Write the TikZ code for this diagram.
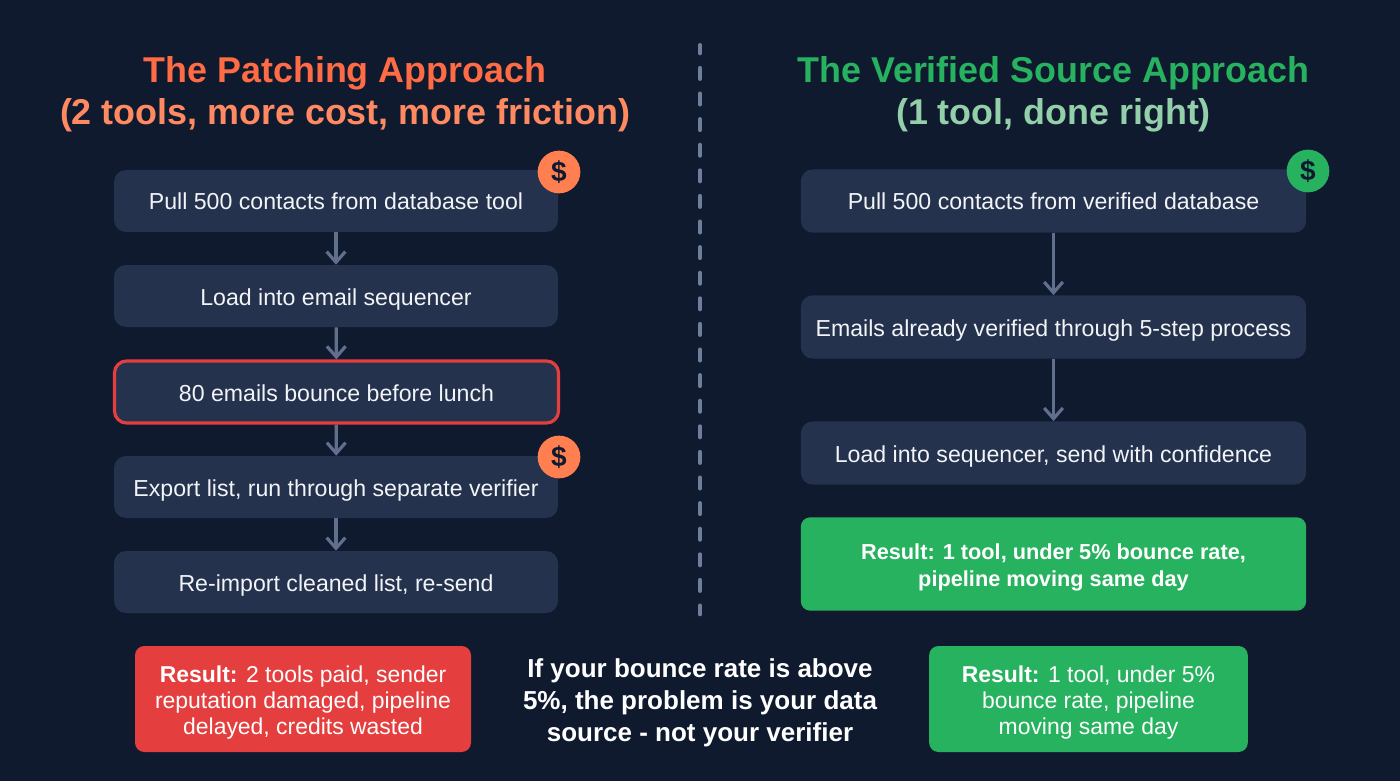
\documentclass[tikz,border=0pt]{standalone}
\usepackage{fontspec}
\setmainfont{Liberation Sans}
\usetikzlibrary{arrows.meta}
\definecolor{pagebg}{HTML}{101A2F}
\definecolor{boxbg}{HTML}{24324D}
\definecolor{arrowgray}{HTML}{5F6F8C}
\definecolor{dashgray}{HTML}{6E7F9C}
\definecolor{textwhite}{HTML}{F2F4F7}
\definecolor{patchorange}{HTML}{FF6B45}
\definecolor{patchlight}{HTML}{FF8A62}
\definecolor{badgeorange}{HTML}{FF7F50}
\definecolor{srcgreen}{HTML}{27B25F}
\definecolor{srclight}{HTML}{93CFA9}
\definecolor{alertred}{HTML}{E53E3E}
\tikzset{
  stepbox/.style={fill=boxbg,rounded corners=9pt,text=textwhite,inner sep=0pt,
    text height=14pt,text depth=.5pt,font=\fontsize{17.35pt}{21pt}\selectfont},
  leftbox/.style={stepbox,minimum width=333pt,minimum height=46.5pt},
  rightbox/.style={stepbox,minimum width=379pt,minimum height=47.5pt},
  flow/.style={draw=arrowgray,line width=2.4pt,-{Straight Barb[length=8pt,width=14pt,line width=2.4pt]}},
  badge/.style={circle,minimum size=32pt,inner sep=0pt,text=pagebg,
    font=\fontsize{21pt}{24pt}\selectfont\bfseries},
  resultbox/.style={rounded corners=7pt,text=white,inner sep=0pt,align=center,
    minimum height=79.5pt,font=\fontsize{17.2pt}{19.7pt}\selectfont},
  heading/.style={align=center,inner sep=0pt,font=\fontsize{26.9pt}{31.5pt}\selectfont\bfseries},
}
\begin{document}
\begin{tikzpicture}[x=.75pt,y=-.75pt]
\useasboundingbox (0,0) rectangle (1400,781);
\fill [pagebg] (0,0) rectangle (1400,781);
\node [heading] (leftTitle) at (345,94) {\textcolor{patchorange}{The Patching Approach}\\\textcolor{patchlight}{(2 tools, more cost, more friction)}};
\node [heading] (rightTitle) at (1053.5,94) {\textcolor{srcgreen}{The Verified Source Approach}\\\textcolor{srclight}{(1 tool, done right)}};
\coordinate (dashTop) at (700,45);
\coordinate (dashEnd) at (700,614.3);
\draw [dashgray,line width=3pt,line cap=round,dash pattern=on 8.25pt off 10.95pt,dash phase=2pt] (dashTop) -- (dashEnd);
% left column
\node [leftbox] (p1) at (336,201) {Pull 500 contacts from database tool};
\node [leftbox] (p2) at (336,296) {Load into email sequencer};
\node [leftbox,draw=alertred,line width=2.4pt] (p3) at (336.5,392) {80 emails bounce before lunch};
\node [leftbox] (p4) at (336,487) {Export list, run through separate verifier};
\node [leftbox] (p5) at (336,582) {Re-import cleaned list, re-send};
\draw [flow] (p1) -- (p2);
\draw [flow] (p2) -- (p3);
\draw [flow] (p3) -- (p4);
\draw [flow] (p4) -- (p5);
\node [badge,fill=badgeorange] (d1) at (559,172) {\$};
\node [badge,fill=badgeorange] (d2) at (559,457) {\$};
% right column
\node [rightbox] (v1) at (1053.5,201) {Pull 500 contacts from verified database};
\node [rightbox] (v2) at (1053.5,327) {Emails already verified through 5-step process};
\node [rightbox] (v3) at (1053.5,453) {Load into sequencer, send with confidence};
\node [resultbox,fill=srcgreen,minimum width=379pt,minimum height=70pt,font=\fontsize{16.3pt}{20.2pt}\selectfont\bfseries] (v4) at (1053.5,564) {\rule{0pt}{17pt}Result: 1 tool, under 5\% bounce rate,\\pipeline moving same day};
\draw [flow] (v1) -- (v2);
\draw [flow] (v2) -- (v3);
\node [badge,fill=srcgreen] (d3) at (1308,171) {\$};
% bottom row
\node [resultbox,fill=alertred,minimum width=252pt] (r1) at (303,699) {\rule{0pt}{18pt}\textbf{Result:} 2 tools paid, sender\\reputation damaged, pipeline\\delayed, credits wasted};
\node [align=center,inner sep=0pt,text=white,font=\fontsize{19.5pt}{24pt}\selectfont\bfseries] (note) at (700,703) {If your bounce rate is above\\5\%, the problem is your data\\source - not your verifier};
\node [resultbox,fill=srcgreen,minimum width=239pt] (r2) at (1088.5,699) {\rule{0pt}{18pt}\textbf{Result:} 1 tool, under 5\%\\bounce rate, pipeline\\moving same day};
\end{tikzpicture}
\end{document}
